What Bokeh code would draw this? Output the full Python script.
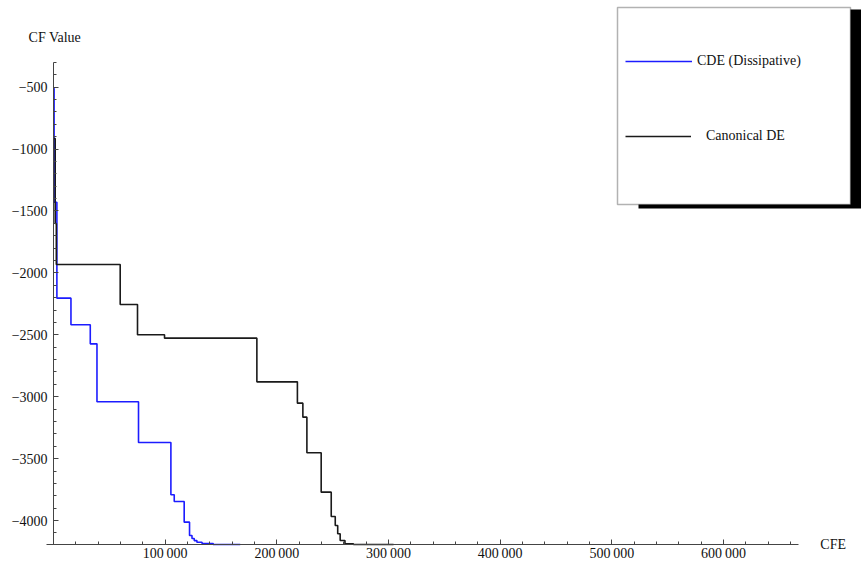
from bokeh.plotting import figure
from bokeh.models import Range1d, FixedTicker, Label, BoxAnnotation, Legend, LegendItem
from bokeh.embed import file_html
from bokeh.resources import INLINE

# ---- data ----
cde_cfe = [0, 500, 3000, 15600, 32900, 38900, 76100, 105100, 108100, 117000,
           121800, 124000, 126000, 128400, 133000, 143000, 167200]
cde_val = [-510, -1430, -2204, -2419, -2573, -3041, -3370, -3792, -3846, -4013,
           -4121, -4145, -4162, -4176, -4186, -4194, -4194]

de_cfe = [0, 1500, 2500, 59700, 75200, 99400, 182100, 218400, 223300, 226900,
          239700, 248700, 252300, 254500, 256700, 261000, 268600, 304500]
de_val = [-915, -1601, -1932, -2255, -2500, -2527, -2880, -3052, -3165, -3453,
          -3771, -3967, -4040, -4107, -4161, -4188, -4194, -4194]

series_names = ["CDE (Dissipative)", "Canonical DE"]

x_ticks = [100000, 200000, 300000, 400000, 500000, 600000]
x_tick_labels = ["100\u2009000", "200\u2009000", "300\u2009000",
                 "400\u2009000", "500\u2009000", "600\u2009000"]
y_ticks = [-500, -1000, -1500, -2000, -2500, -3000, -3500, -4000]
y_tick_labels = ["\u2212500", "\u22121000", "\u22121500", "\u22122000",
                 "\u22122500", "\u22123000", "\u22123500", "\u22124000"]

x_title = "CFE"
y_title = "CF Value"

# axis extents (axes cross at the origin point, Mathematica style)
X_ORIGIN = 0
Y_ORIGIN = -4194
X_AXIS_START = -6000
X_AXIS_END = 667000
Y_AXIS_TOP = -300
X_RANGE = (-47500, 723600)
Y_RANGE = (-4339, 200)

FONT = "Liberation Serif"

p = figure(width=861, height=562, output_backend="svg", toolbar_location=None,
           x_range=Range1d(*X_RANGE), y_range=Range1d(*Y_RANGE),
           min_border_left=0, min_border_right=0, min_border_top=0, min_border_bottom=0)
p.outline_line_color = None
p.xgrid.visible = False
p.ygrid.visible = False
p.background_fill_color = "white"
p.border_fill_color = "white"

r_cde = p.step(cde_cfe, cde_val, mode="after", line_color="#1c1cff", line_width=1.6)
r_de = p.step(de_cfe, de_val, mode="after", line_color="#1a1a1a", line_width=1.6)

# axes
x_minor = list(range(20000, X_AXIS_END, 20000))
y_minor = list(range(-4100, Y_AXIS_TOP + 1, 100))
p.xaxis.ticker = FixedTicker(ticks=x_ticks, minor_ticks=x_minor)
p.yaxis.ticker = FixedTicker(ticks=y_ticks, minor_ticks=y_minor)
p.xaxis.major_label_overrides = dict(zip(x_ticks, x_tick_labels))
p.yaxis.major_label_overrides = dict(zip(y_ticks, y_tick_labels))
p.xaxis.fixed_location = Y_ORIGIN
p.yaxis.fixed_location = X_ORIGIN
p.xaxis.bounds = (X_AXIS_START, X_AXIS_END)
p.yaxis.bounds = (Y_ORIGIN, Y_AXIS_TOP)
for ax in (p.xaxis, p.yaxis):
    ax.axis_line_color = "#444444"
    ax.axis_line_width = 1
    ax.major_tick_line_color = "#444444"
    ax.minor_tick_line_color = "#444444"
    ax.major_tick_in = 5
    ax.major_tick_out = 0
    ax.minor_tick_in = 3
    ax.minor_tick_out = 0
    ax.major_label_text_font = FONT
    ax.major_label_text_font_size = "14px"
    ax.major_label_text_color = "#111111"
p.xaxis.major_label_standoff = 1
p.yaxis.major_label_standoff = 6

# axis titles at the ends of the axes
p.add_layout(Label(x=X_AXIS_END, y=Y_ORIGIN, x_offset=22, text=x_title,
                   text_font=FONT, text_font_size="14px", text_baseline="middle",
                   text_color="#111111"))
p.add_layout(Label(x=X_ORIGIN, y=Y_AXIS_TOP, x_offset=-25, y_offset=25, text=y_title,
                   text_font=FONT, text_font_size="14px", text_baseline="middle",
                   text_color="#111111"))

# legend frame with drop shadow
shadow = BoxAnnotation(left=638, right=862, top=9, bottom=208,
                       left_units="canvas", right_units="canvas",
                       top_units="canvas", bottom_units="canvas",
                       fill_color="black", fill_alpha=1, line_alpha=0)
box = BoxAnnotation(left=617, right=850, top=7, bottom=204,
                    left_units="canvas", right_units="canvas",
                    top_units="canvas", bottom_units="canvas",
                    fill_color="white", fill_alpha=1, line_color="black", line_width=1.5)
p.add_layout(shadow)
p.add_layout(box)

legend_style = dict(padding=0, margin=0, glyph_height=20, label_height=20,
                    border_line_alpha=0, background_fill_alpha=0,
                    label_text_font=FONT, label_text_font_size="14px",
                    label_text_color="#111111")
legend1 = Legend(items=[LegendItem(label=series_names[0], renderers=[r_cde])],
                 location=(625, 491), glyph_width=67, label_standoff=5, **legend_style)
legend2 = Legend(items=[LegendItem(label=series_names[1], renderers=[r_de])],
                 location=(625, 416), glyph_width=66, label_standoff=15, **legend_style)
p.add_layout(legend1)
p.add_layout(legend2)

open("out.html", "w").write(file_html(p, INLINE))
